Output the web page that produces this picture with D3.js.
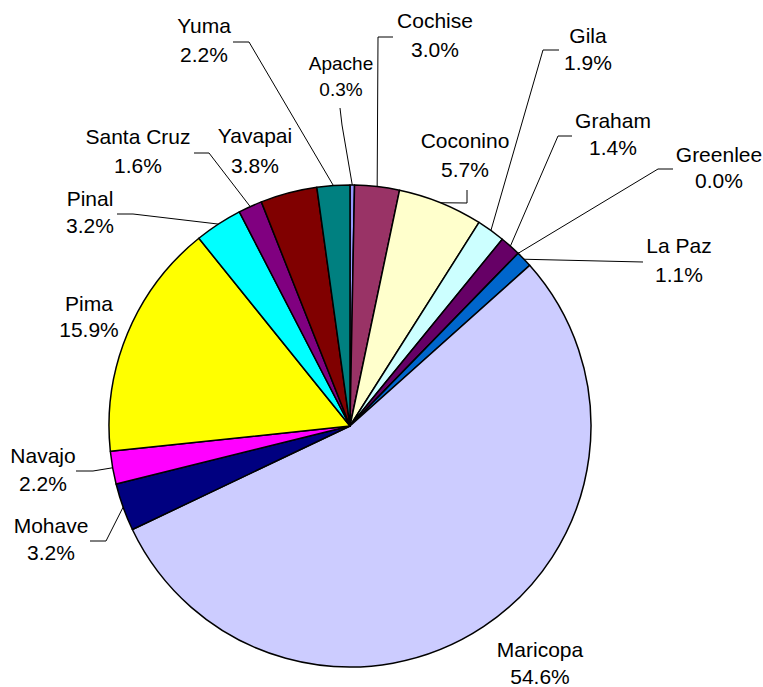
<!DOCTYPE html>
<html>
<head>
<meta charset="utf-8">
<script src="https://cdn.jsdelivr.net/npm/d3@7"></script>
<style>
  html, body { margin: 0; padding: 0; background: #fff; }
  svg { display: block; }
  text { font-family: "Liberation Sans", Arial, sans-serif; fill: #000; }
</style>
</head>
<body>
<svg id="chart" width="763" height="687"></svg>
<script>
// ---- data ----
const counties = ["Apache","Cochise","Coconino","Gila","Graham","Greenlee","La Paz","Maricopa","Mohave","Navajo","Pima","Pinal","Santa Cruz","Yavapai","Yuma"];
const shares = [0.3, 3.0, 5.7, 1.9, 1.4, 0.0, 1.1, 54.6, 3.2, 2.2, 15.9, 3.2, 1.6, 3.8, 2.2];
const shareLabels = ["0.3%","3.0%","5.7%","1.9%","1.4%","0.0%","1.1%","54.6%","3.2%","2.2%","15.9%","3.2%","1.6%","3.8%","2.2%"];

// ---- styles / layout ----
const colors = ["#9999FF","#993366","#FFFFCC","#CCFFFF","#660066","#FF8080","#0066CC","#CCCCFF","#000080","#FF00FF","#FFFF00","#00FFFF","#800080","#800000","#008080"];
const cx = 350, cy = 426, R = 241;
// label placement: text centre x, name baseline y, line gap, font size, leader path (elbow & end) or null
const labelLayout = {
  "Apache":     {x: 341, y: 70,  gap: 26, fs: 19, leader: [[342,125],[340,108]]},
  "Cochise":    {x: 435, y: 28,  gap: 29, fs: 21, leader: [[378,37],[393,37]]},
  "Coconino":   {x: 465, y: 148, gap: 29, fs: 21, leader: [[467,203],[467,190]]},
  "Gila":       {x: 588, y: 43,  gap: 27, fs: 21, leader: [[543,50],[559,50]]},
  "Graham":     {x: 613, y: 128, gap: 27, fs: 21, leader: [[558,136],[572,136]]},
  "Greenlee":   {x: 719, y: 162, gap: 26, fs: 21, leader: [[658,169],[673,169]]},
  "La Paz":     {x: 679, y: 253, gap: 29, fs: 21, leader: [[643,262],[643,262]]},
  "Maricopa":   {x: 540, y: 657, gap: 27, fs: 21, leader: null},
  "Mohave":     {x: 51,  y: 533, gap: 27, fs: 21, leader: [[106,541],[90,541]]},
  "Navajo":     {x: 43,  y: 463, gap: 28, fs: 21, leader: [[93,471],[76,471]]},
  "Pima":       {x: 89,  y: 311, gap: 26, fs: 21, leader: null},
  "Pinal":      {x: 90,  y: 206, gap: 27, fs: 21, leader: [[133,214],[117,214]]},
  "Santa Cruz": {x: 138, y: 144, gap: 29, fs: 21, leader: [[209,153],[194,153]]},
  "Yavapai":    {x: 255, y: 143, gap: 30, fs: 21, leader: null},
  "Yuma":       {x: 204, y: 33,  gap: 29, fs: 21, leader: [[249,42],[233,42]]}
};

const data = counties.map((c, i) => ({county: c, value: shares[i], label: shareLabels[i], color: colors[i]}));

const svg = d3.select("#chart");
const g = svg.append("g").attr("transform", `translate(${cx},${cy})`);

const pie = d3.pie().sort(null).value(d => d.value).startAngle(0).endAngle(2 * Math.PI);
const arcs = pie(data);
const arc = d3.arc().innerRadius(0).outerRadius(R);
const edgeArc = d3.arc().innerRadius(R).outerRadius(R);

g.selectAll("path.slice")
  .data(arcs)
  .join("path")
  .attr("class", "slice")
  .attr("d", arc)
  .attr("fill", d => d.data.color)
  .attr("stroke", "#000")
  .attr("stroke-width", 1.5)
  .attr("stroke-linejoin", "round");

// leader lines
const lineGen = d3.line();
svg.selectAll("path.leader")
  .data(arcs.filter(d => labelLayout[d.data.county].leader))
  .join("path")
  .attr("class", "leader")
  .attr("d", d => {
    const [ex, ey] = edgeArc.centroid(d);
    const pts = [[cx + ex, cy + ey], ...labelLayout[d.data.county].leader];
    return lineGen(pts);
  })
  .attr("fill", "none")
  .attr("stroke", "#000")
  .attr("stroke-width", 1);

// labels
const lbl = svg.selectAll("g.lbl")
  .data(arcs)
  .join("g")
  .attr("class", "lbl");

lbl.append("text")
  .attr("x", d => labelLayout[d.data.county].x)
  .attr("y", d => labelLayout[d.data.county].y)
  .attr("text-anchor", "middle")
  .attr("font-size", d => labelLayout[d.data.county].fs)
  .text(d => d.data.county);

lbl.append("text")
  .attr("x", d => labelLayout[d.data.county].x)
  .attr("y", d => labelLayout[d.data.county].y + labelLayout[d.data.county].gap)
  .attr("text-anchor", "middle")
  .attr("font-size", d => labelLayout[d.data.county].fs)
  .text(d => d.data.label);
</script>
</body>
</html>
